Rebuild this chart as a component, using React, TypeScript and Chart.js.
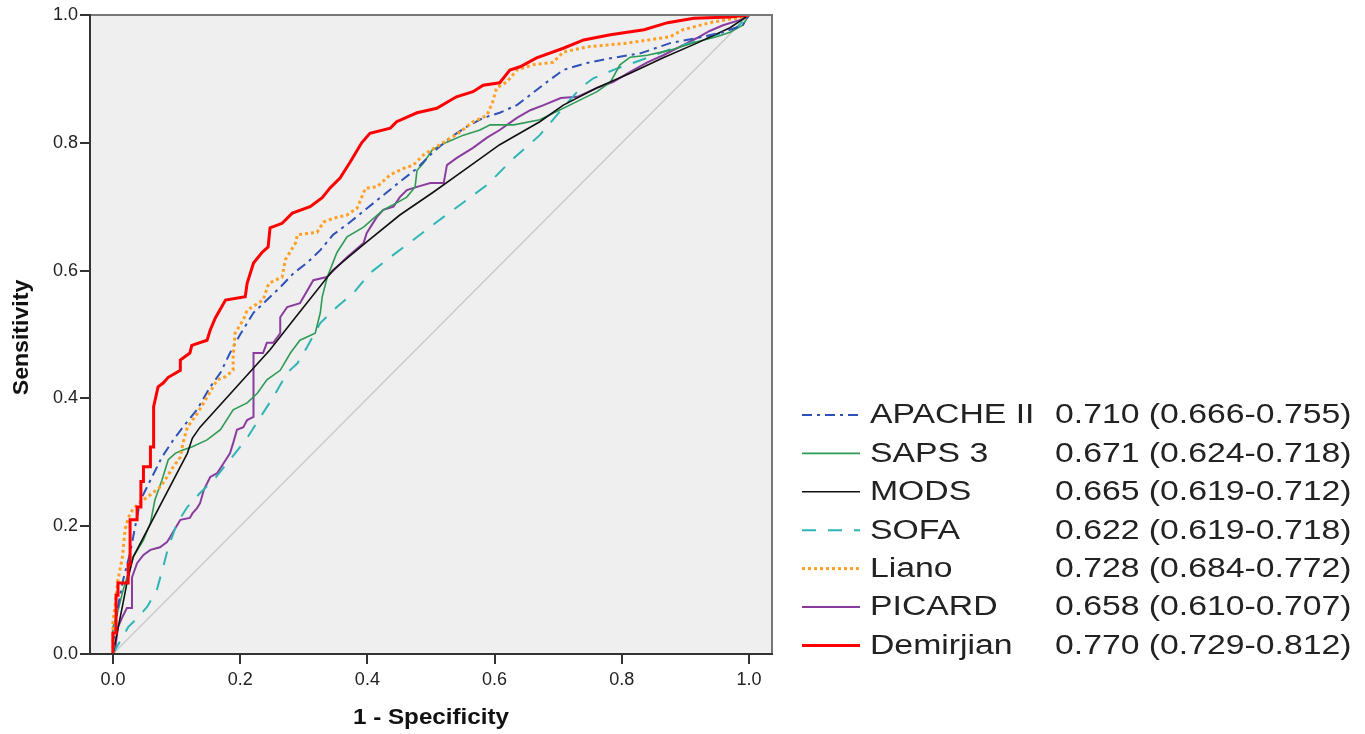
import React, { useEffect, useRef } from "react";
import { Chart, registerables } from "chart.js";

Chart.register(...registerables);

const W = 1365;
const H = 734;

const seriesNames = ["APACHE II", "SAPS 3", "MODS", "SOFA", "Liano", "PICARD", "Demirjian"];
const aucLabels = [
  "0.710 (0.666-0.755)",
  "0.671 (0.624-0.718)",
  "0.665 (0.619-0.712)",
  "0.622 (0.619-0.718)",
  "0.728 (0.684-0.772)",
  "0.658 (0.610-0.707)",
  "0.770 (0.729-0.812)",
];
const xTickValues = [0, 0.2, 0.4, 0.6, 0.8, 1.0];
const yTickValues = [0, 0.2, 0.4, 0.6, 0.8, 1.0];
const diagonalPts: [number, number][] = [[0, 0], [1, 1]];

const apachePts: [number, number][] = [
  [0, 0], [0.004, 0.042], [0.008, 0.074], [0.016, 0.116], [0.027, 0.158], [0.035, 0.199], [0.043, 0.24],
  [0.054, 0.262], [0.077, 0.308], [0.095, 0.335], [0.11, 0.355], [0.132, 0.382], [0.153, 0.418], [0.169, 0.44],
  [0.184, 0.471], [0.2, 0.5], [0.221, 0.534], [0.242, 0.554], [0.263, 0.574], [0.284, 0.596], [0.305, 0.612],
  [0.326, 0.632], [0.346, 0.656], [0.373, 0.676], [0.4, 0.698], [0.425, 0.718], [0.451, 0.739], [0.478, 0.76],
  [0.504, 0.786], [0.53, 0.808], [0.556, 0.825], [0.582, 0.839], [0.608, 0.847], [0.635, 0.859], [0.656, 0.875],
  [0.682, 0.895], [0.708, 0.914], [0.745, 0.925], [0.786, 0.933], [0.829, 0.94], [0.876, 0.956], [0.918, 0.964],
  [0.959, 0.973], [0.99, 0.984], [1, 1],
];

const saps3Pts: [number, number][] = [
  [0, 0], [0, 0.042], [0.007, 0.064], [0.016, 0.1], [0.032, 0.152], [0.048, 0.178], [0.059, 0.205], [0.066, 0.241],
  [0.077, 0.272], [0.087, 0.304], [0.098, 0.314], [0.109, 0.319], [0.124, 0.324], [0.148, 0.335], [0.169, 0.351],
  [0.189, 0.382], [0.211, 0.393], [0.227, 0.408], [0.242, 0.429], [0.263, 0.444], [0.279, 0.471], [0.294, 0.491],
  [0.318, 0.502], [0.326, 0.534], [0.329, 0.559], [0.337, 0.59], [0.352, 0.628], [0.368, 0.653], [0.394, 0.668],
  [0.425, 0.695], [0.446, 0.706], [0.462, 0.715], [0.475, 0.731], [0.478, 0.757], [0.488, 0.768], [0.502, 0.789],
  [0.525, 0.801], [0.551, 0.812], [0.577, 0.82], [0.593, 0.828], [0.63, 0.828], [0.671, 0.836], [0.687, 0.844],
  [0.718, 0.859], [0.761, 0.88], [0.782, 0.895], [0.797, 0.922], [0.813, 0.934], [0.84, 0.937], [0.876, 0.945],
  [0.918, 0.958], [0.949, 0.966], [0.97, 0.973], [0.99, 0.984], [1, 1],
];

const modsPts: [number, number][] = [
  [0, 0], [0.016, 0.08], [0.022, 0.111], [0.032, 0.152], [0.117, 0.314], [0.125, 0.338], [0.137, 0.355],
  [0.247, 0.476], [0.284, 0.523], [0.346, 0.601], [0.399, 0.645], [0.451, 0.687], [0.504, 0.723], [0.556, 0.76],
  [0.608, 0.797], [0.671, 0.833], [0.708, 0.859], [0.761, 0.886], [0.813, 0.909], [0.865, 0.933], [0.918, 0.956],
  [0.97, 0.98], [1, 1],
];

const sofaPts: [number, number][] = [
  [0, 0], [0.024, 0.042], [0.04, 0.058], [0.054, 0.074], [0.069, 0.1], [0.079, 0.136], [0.087, 0.167],
  [0.101, 0.205], [0.117, 0.23], [0.137, 0.252], [0.158, 0.272], [0.184, 0.304], [0.211, 0.338], [0.232, 0.371],
  [0.252, 0.402], [0.274, 0.44], [0.29, 0.455], [0.305, 0.48], [0.326, 0.518], [0.352, 0.543], [0.378, 0.565],
  [0.404, 0.596], [0.436, 0.621], [0.472, 0.648], [0.509, 0.676], [0.546, 0.703], [0.588, 0.734], [0.63, 0.776],
  [0.671, 0.812], [0.714, 0.862], [0.735, 0.886], [0.755, 0.901], [0.792, 0.916], [0.84, 0.933], [0.881, 0.948],
  [0.913, 0.958], [0.949, 0.969], [0.98, 0.98], [1, 1],
];

const lianoPts: [number, number][] = [
  [0, 0], [0, 0.05], [0.004, 0.08], [0.008, 0.116], [0.015, 0.152], [0.019, 0.194], [0.024, 0.213], [0.032, 0.228],
  [0.048, 0.241], [0.06, 0.25], [0.075, 0.262], [0.085, 0.277], [0.095, 0.293], [0.106, 0.308], [0.11, 0.33],
  [0.117, 0.355], [0.133, 0.377], [0.148, 0.402], [0.164, 0.429], [0.177, 0.434], [0.189, 0.444], [0.189, 0.465],
  [0.192, 0.502], [0.205, 0.523], [0.211, 0.538], [0.236, 0.554], [0.245, 0.58], [0.266, 0.59], [0.271, 0.617],
  [0.287, 0.643], [0.29, 0.656], [0.321, 0.66], [0.331, 0.676], [0.347, 0.682], [0.368, 0.687], [0.384, 0.698],
  [0.397, 0.729], [0.415, 0.731], [0.436, 0.75], [0.457, 0.76], [0.472, 0.765], [0.488, 0.781], [0.514, 0.797],
  [0.546, 0.817], [0.566, 0.833], [0.588, 0.843], [0.597, 0.864], [0.603, 0.886], [0.619, 0.895], [0.635, 0.914],
  [0.66, 0.922], [0.692, 0.926], [0.708, 0.942], [0.745, 0.95], [0.808, 0.956], [0.876, 0.966], [0.896, 0.977],
  [0.943, 0.989], [0.98, 0.995], [1, 1],
];

const picardPts: [number, number][] = [
  [0, 0], [0.004, 0.011], [0.008, 0.042], [0.015, 0.058], [0.022, 0.072], [0.03, 0.072], [0.03, 0.12],
  [0.038, 0.142], [0.048, 0.155], [0.059, 0.163], [0.074, 0.167], [0.085, 0.175], [0.09, 0.183], [0.103, 0.205],
  [0.106, 0.21], [0.121, 0.213], [0.125, 0.22], [0.132, 0.228], [0.137, 0.236], [0.143, 0.257], [0.153, 0.277],
  [0.164, 0.283], [0.175, 0.3], [0.184, 0.314], [0.189, 0.33], [0.195, 0.351], [0.205, 0.355], [0.211, 0.366],
  [0.221, 0.371], [0.221, 0.471], [0.236, 0.471], [0.242, 0.487], [0.252, 0.487], [0.263, 0.502], [0.263, 0.527],
  [0.274, 0.543], [0.294, 0.549], [0.315, 0.585], [0.336, 0.59], [0.368, 0.621], [0.394, 0.643], [0.399, 0.659],
  [0.415, 0.684], [0.425, 0.695], [0.441, 0.7], [0.451, 0.715], [0.462, 0.726], [0.478, 0.731], [0.499, 0.737],
  [0.52, 0.737], [0.525, 0.765], [0.54, 0.776], [0.566, 0.792], [0.588, 0.808], [0.608, 0.82], [0.635, 0.839],
  [0.656, 0.851], [0.677, 0.859], [0.704, 0.87], [0.73, 0.872], [0.761, 0.886], [0.786, 0.895], [0.813, 0.911],
  [0.84, 0.926], [0.865, 0.937], [0.891, 0.95], [0.918, 0.964], [0.938, 0.975], [0.959, 0.984], [0.985, 0.992],
  [1, 1],
];

const demirjianPts: [number, number][] = [
  [0, 0], [0, 0.033], [0.005, 0.033], [0.005, 0.092], [0.008, 0.092], [0.008, 0.111], [0.024, 0.111],
  [0.024, 0.14], [0.027, 0.14], [0.027, 0.21], [0.038, 0.21], [0.038, 0.23], [0.044, 0.23], [0.044, 0.27],
  [0.048, 0.27], [0.048, 0.293], [0.059, 0.293], [0.059, 0.324], [0.064, 0.324], [0.064, 0.387], [0.071, 0.418],
  [0.079, 0.424], [0.087, 0.433], [0.106, 0.444], [0.106, 0.46], [0.121, 0.471], [0.124, 0.483], [0.148, 0.491],
  [0.153, 0.507], [0.161, 0.526], [0.177, 0.554], [0.208, 0.559], [0.211, 0.58], [0.221, 0.612], [0.234, 0.628],
  [0.244, 0.637], [0.247, 0.667], [0.266, 0.674], [0.282, 0.69], [0.31, 0.7], [0.329, 0.714], [0.341, 0.729],
  [0.357, 0.745], [0.373, 0.77], [0.391, 0.8], [0.404, 0.815], [0.436, 0.823], [0.446, 0.833], [0.478, 0.847],
  [0.509, 0.854], [0.54, 0.872], [0.566, 0.88], [0.582, 0.89], [0.608, 0.894], [0.624, 0.914], [0.64, 0.919],
  [0.666, 0.933], [0.708, 0.948], [0.74, 0.961], [0.782, 0.969], [0.835, 0.977], [0.872, 0.988], [0.913, 0.995],
  [0.97, 0.997], [1, 1],
];

type Style = { color: string; width: number; dash: number[]; cap: CanvasLineCap };
const seriesStyles: Style[] = [
  { color: "#2f52b8", width: 2, dash: [10, 5, 3, 5], cap: "butt" },
  { color: "#2e9a55", width: 1.6, dash: [], cap: "butt" },
  { color: "#111111", width: 1.6, dash: [], cap: "butt" },
  { color: "#2fb5b5", width: 2, dash: [14, 12], cap: "butt" },
  { color: "#ffa024", width: 3, dash: [3, 3], cap: "butt" },
  { color: "#8a3c9e", width: 2, dash: [], cap: "butt" },
  { color: "#ff0000", width: 3, dash: [], cap: "butt" },
];
const seriesPts = [apachePts, saps3Pts, modsPts, sofaPts, lianoPts, picardPts, demirjianPts];
const seriesOrder = [3, 5, 4, 6, 2, 7, 1];

const FONT = "'Liberation Sans', Arial, sans-serif";

function stretchedText(ctx: CanvasRenderingContext2D, text: string, x: number, y: number, sx: number) {
  ctx.save();
  ctx.translate(x, y);
  ctx.scale(sx, 1);
  ctx.fillText(text, 0, 0);
  ctx.restore();
}

const decorPlugin = {
  id: "decor",
  beforeDraw(chart: any) {
    const { ctx, chartArea: a } = chart;
    ctx.save();
    ctx.fillStyle = "#efefef";
    ctx.fillRect(a.left, a.top, a.right - a.left, a.bottom - a.top);
    ctx.restore();
  },
  afterDraw(chart: any) {
    const { ctx, chartArea: a } = chart;
    ctx.save();
    ctx.lineWidth = 2;
    ctx.strokeStyle = "#777777";
    ctx.beginPath();
    ctx.moveTo(a.left, a.top);
    ctx.lineTo(a.right, a.top);
    ctx.lineTo(a.right, a.bottom);
    ctx.stroke();
    ctx.strokeStyle = "#333333";
    ctx.beginPath();
    ctx.moveTo(a.left, a.top - 1);
    ctx.lineTo(a.left, a.bottom);
    ctx.lineTo(a.right + 1, a.bottom);
    ctx.stroke();

    ctx.fillStyle = "#111111";
    ctx.font = `bold 22px ${FONT}`;
    ctx.textAlign = "center";
    ctx.textBaseline = "middle";
    stretchedText(ctx, "1 - Specificity", (a.left + a.right) / 2, 718, 1.1);
    ctx.save();
    ctx.translate(22, (a.top + a.bottom) / 2 + 3);
    ctx.rotate(-Math.PI / 2);
    ctx.scale(1.05, 1);
    ctx.fillText("Sensitivity", 0, 0);
    ctx.restore();

    const rowTop = 415;
    const rowGap = 38.4;
    for (let i = 0; i < seriesNames.length; i++) {
      const y = rowTop + i * rowGap;
      const s = seriesStyles[i];
      ctx.save();
      ctx.strokeStyle = s.color;
      ctx.lineWidth = s.width;
      ctx.setLineDash(s.dash);
      ctx.lineCap = s.cap;
      ctx.beginPath();
      ctx.moveTo(802, y);
      ctx.lineTo(860, y);
      ctx.stroke();
      ctx.restore();
      ctx.fillStyle = "#222222";
      ctx.font = `27px ${FONT}`;
      ctx.textAlign = "left";
      ctx.textBaseline = "middle";
      stretchedText(ctx, seriesNames[i], 870, y + 1, 1.25);
      stretchedText(ctx, aucLabels[i], 1055, y + 1, 1.25);
    }
    ctx.restore();
  },
};

export default function App() {
  const ref = useRef<HTMLCanvasElement | null>(null);

  useEffect(() => {
    if (!ref.current) return;
    const datasets: any[] = seriesNames.map((name, i) => ({
      label: name,
      data: seriesPts[i].map(([x, y]) => ({ x, y })),
      borderColor: seriesStyles[i].color,
      borderWidth: seriesStyles[i].width,
      borderDash: seriesStyles[i].dash,
      borderCapStyle: seriesStyles[i].cap,
      borderJoinStyle: "miter",
      pointRadius: 0,
      fill: false,
      tension: 0,
      order: seriesOrder[i],
    }));
    datasets.push({
      label: "Reference",
      data: diagonalPts.map(([x, y]) => ({ x, y })),
      borderColor: "#c8c8c8",
      borderWidth: 1.3,
      pointRadius: 0,
      fill: false,
      order: 20,
    });

    const tickFont = { family: FONT, size: 18 };
    const chart = new Chart(ref.current, {
      type: "line",
      data: { datasets },
      plugins: [decorPlugin],
      options: {
        responsive: false,
        animation: false,
        devicePixelRatio: 1,
        layout: { padding: { left: 0, top: 15, right: W - 772, bottom: 0 } },
        plugins: { legend: { display: false }, tooltip: { enabled: false } },
        scales: {
          x: {
            type: "linear",
            min: -0.036,
            max: 1.036,
            afterBuildTicks: (s: any) => {
              s.ticks = xTickValues.map((v) => ({ value: v }));
            },
            afterFit: (s: any) => {
              s.height = 80;
            },
            ticks: {
              font: tickFont,
              color: "#222222",
              padding: 5,
              maxRotation: 0,
              autoSkip: false,
              callback: (v: any) => Number(v).toFixed(1),
            },
            grid: { drawOnChartArea: false, drawTicks: true, tickLength: 10, tickColor: "#333333", tickWidth: 2, lineWidth: 2 },
            border: { display: false },
          },
          y: {
            type: "linear",
            min: 0,
            max: 1,
            afterBuildTicks: (s: any) => {
              s.ticks = yTickValues.map((v) => ({ value: v }));
            },
            afterFit: (s: any) => {
              s.width = 90;
            },
            ticks: {
              font: tickFont,
              color: "#222222",
              padding: 2,
              autoSkip: false,
              callback: (v: any) => Number(v).toFixed(1),
            },
            grid: { drawOnChartArea: false, drawTicks: true, tickLength: 10, tickColor: "#333333", tickWidth: 2, lineWidth: 2 },
            border: { display: false },
          },
        },
      } as any,
    });
    return () => chart.destroy();
  }, []);

  return (
    <div style={{ position: "absolute", left: 0, top: 0, width: W, height: H, background: "#ffffff" }}>
      <canvas ref={ref} width={W} height={H} style={{ width: W, height: H, display: "block" }} />
    </div>
  );
}
